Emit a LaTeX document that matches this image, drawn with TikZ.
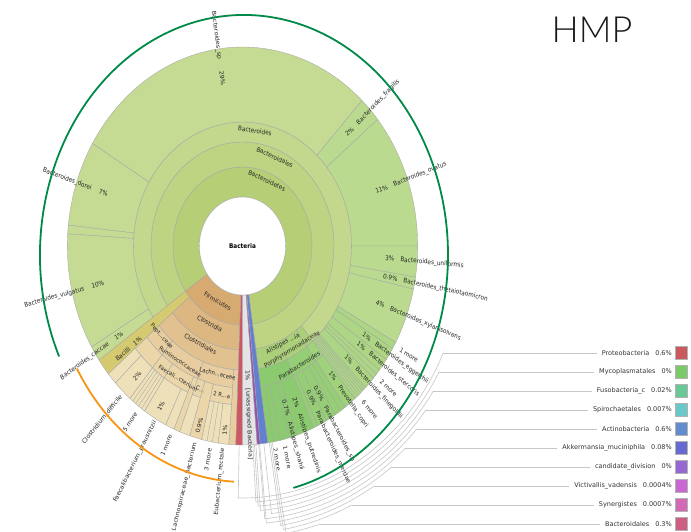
\documentclass[tikz,border=0pt]{standalone}
\usepackage{fontspec}
\newfontfamily\kfont{DejaVu Sans}
\IfFontExistsTF{Lato Light}{\newfontfamily\hfont{Lato Light}}{\newfontfamily\hfont{Lato}}
\usetikzlibrary{calc}
\definecolor{bdA}{RGB}{182,206,118}
\definecolor{bdB}{RGB}{190,212,130}
\definecolor{bdC}{RGB}{195,216,140}
\definecolor{bsp}{RGB}{197,219,147}
\definecolor{bsr}{RGB}{186,219,143}
\definecolor{bsl}{RGB}{172,214,132}
\definecolor{prv}{RGB}{160,210,124}
\definecolor{pra}{RGB}{150,206,118}
\definecolor{ali}{RGB}{140,202,112}
\definecolor{famc}{RGB}{172,208,122}
\definecolor{fmA}{RGB}{214,170,112}
\definecolor{fmB}{RGB}{221,183,130}
\definecolor{fmC}{RGB}{226,193,145}
\definecolor{fmD}{RGB}{231,205,160}
\definecolor{fmE}{RGB}{235,214,170}
\definecolor{fmS}{RGB}{238,224,184}
\definecolor{bac}{RGB}{214,202,112}
\definecolor{prot}{RGB}{203,88,98}
\definecolor{unas}{RGB}{228,228,230}
\definecolor{verr}{RGB}{150,82,172}
\definecolor{actn}{RGB}{98,128,205}
\definecolor{lcA}{RGB}{200,90,95}
\definecolor{lcB}{RGB}{125,200,105}
\definecolor{lcC}{RGB}{105,200,150}
\definecolor{lcD}{RGB}{105,200,200}
\definecolor{lcE}{RGB}{100,140,205}
\definecolor{lcF}{RGB}{105,105,210}
\definecolor{lcG}{RGB}{150,105,210}
\definecolor{lcH}{RGB}{200,105,210}
\definecolor{lcI}{RGB}{210,105,180}
\definecolor{lcJ}{RGB}{205,95,130}
\definecolor{garc}{RGB}{0,138,72}
\definecolor{oarc}{RGB}{247,150,20}
\tikzset{
  wl/.style={draw=black!35, line width=0.35pt},
  lab/.style={font=\kfont\fontsize{6.5}{7}\selectfont, text=black!85, inner sep=0.5pt, transform shape},
  slab/.style={lab, font=\kfont\fontsize{6}{6.5}\selectfont},
  leader/.style={draw=black!22, line width=0.6pt},
  legtext/.style={font=\kfont\fontsize{6.5}{7}\selectfont, text=black!80, inner sep=0pt, anchor=east},
  swatch/.style={minimum width=12pt, minimum height=13pt, inner sep=0pt, draw=black!30, line width=0.3pt},
}
\newcommand\ksec[5]{\filldraw[wl,fill=#1] (#2:#4) -- (#2:#5) arc[start angle=#2,end angle=#3,radius=#5] -- (#3:#4) arc[start angle=#3,end angle=#2,radius=#4] -- cycle;}
\newcommand\kline[1]{\draw[wl] (#1:124) -- (#1:199);}
\newcommand\labR[4]{\node[lab,anchor=west,rotate=#2] (#1) at (#2:#3) {#4};}
\newcommand\labL[4]{\pgfmathsetmacro\kang{#2+180}\node[lab,anchor=east,rotate=\kang] (#1) at (#2:#3) {#4};}
\newcommand\labC[4]{\pgfmathsetmacro\kang{#2+180}\node[lab,rotate=\kang] (#1) at (#2:#3) {#4};}
\newcommand\labT[4]{\pgfmathsetmacro\kang{#2-90}\node[lab,rotate=\kang] (#1) at (#2:#3) {#4};}
\newcommand\labB[4]{\pgfmathsetmacro\kang{#2+90}\node[lab,rotate=\kang] (#1) at (#2:#3) {#4};}
\newcommand\labS[4]{\pgfmathsetmacro\kang{#2+90}\node[slab,rotate=\kang] (#1) at (#2:#3) {#4};}
\begin{document}
\begin{tikzpicture}[x=1pt,y=1pt]
\useasboundingbox (0,0) rectangle (691,-531);
\fill[white] (0,0) rectangle (691,-531);
\begin{scope}[shift={(242.5,-246)}, xscale=0.88]
% Bacteroidetes
\ksec{bdA}{-81.7}{215}{49}{79}
\ksec{bdB}{-81.7}{215}{79}{104}
\ksec{bdC}{-50}{215}{104}{124}
\ksec{famc}{-54}{-50}{104}{124}
\ksec{famc}{-66}{-54}{104}{124}
\ksec{famc}{-81.7}{-66}{104}{124}
\ksec{bsp}{47}{149}{124}{199}
\ksec{bsp}{149}{174}{124}{199}
\ksec{bsp}{174}{176.5}{124}{199}
\ksec{bsp}{176.5}{210.5}{124}{199}
\ksec{bsp}{210.5}{215}{124}{199}
\ksec{bsr}{39.5}{47}{124}{199}
\ksec{bsr}{0}{39.5}{124}{199}
\ksec{bsr}{-9}{0}{124}{199}
\ksec{bsr}{-12.5}{-9}{124}{199}
\ksec{bsr}{-29}{-12.5}{124}{199}
\ksec{bsl}{-31}{-29}{124}{199}
\ksec{bsl}{-34.8}{-31}{124}{199}
\ksec{bsl}{-38.6}{-34.8}{124}{199}
\ksec{bsl}{-41.6}{-38.6}{124}{199}
\ksec{bsl}{-45.4}{-41.6}{124}{199}
\ksec{bsl}{-50}{-45.4}{124}{199}
\kline{-40.1}\kline{-49.2}\kline{-48.4}\kline{-47.6}\kline{-46.8}\kline{-46.1}
\ksec{prv}{-54}{-50}{124}{142}
\ksec{prv}{-54}{-50}{142}{199}
\ksec{pra}{-66}{-54}{124}{142}
\ksec{pra}{-58}{-54}{142}{199}
\ksec{pra}{-61.4}{-58}{142}{199}
\ksec{pra}{-64.6}{-61.4}{142}{199}
\ksec{pra}{-66}{-64.6}{142}{199}
\ksec{ali}{-81.7}{-66}{124}{142}
\ksec{ali}{-72}{-66}{142}{199}
\ksec{ali}{-74.5}{-72}{142}{199}
\ksec{ali}{-77.5}{-74.5}{142}{199}
\ksec{ali}{-81.7}{-77.5}{142}{199}
\draw[wl] (-79.6:142) -- (-79.6:199);
\draw[wl] (-56:142) -- (-56:199);
% Firmicutes
\ksec{fmA}{215}{267.8}{49}{79}
\ksec{bac}{215}{220}{79}{199}
\ksec{fmB}{220}{267.8}{79}{104}
\ksec{fmC}{220}{267.8}{104}{124}
\ksec{fmD}{220}{230}{124}{142}
\ksec{fmD}{230}{249}{124}{142}
\ksec{fmD}{249}{265.5}{124}{142}
\ksec{fmD}{265.5}{267.8}{124}{199}
\ksec{fmE}{220}{230}{142}{159}
\ksec{fmS}{220}{223.5}{159}{199}
\ksec{fmS}{223.5}{230}{159}{199}
\ksec{fmE}{230}{236}{142}{159}
\ksec{fmS}{230}{236}{159}{199}
\draw[wl] (231.2:159) -- (231.2:199);
\draw[wl] (232.4:159) -- (232.4:199);
\draw[wl] (233.6:159) -- (233.6:199);
\draw[wl] (234.8:159) -- (234.8:199);
\ksec{fmE}{236}{247}{142}{159}
\ksec{fmS}{236}{244}{159}{199}
\ksec{fmS}{244}{247}{159}{199}
\ksec{fmE}{247}{249}{142}{199}
\ksec{fmE}{249}{252.5}{142}{159}
\ksec{fmS}{249}{252.5}{159}{199}
\ksec{fmE}{252.5}{256.5}{142}{199}
\ksec{fmE}{256.5}{265.5}{142}{159}
\ksec{fmS}{256.5}{262}{159}{199}
\ksec{fmS}{262}{265.5}{159}{199}
\draw[wl] (258.3:159) -- (258.3:199);
\draw[wl] (260.1:159) -- (260.1:199);
% thin phyla
\ksec{prot}{267.8}{270}{49}{199}
\ksec{unas}{270}{274.8}{49}{199}
\ksec{verr}{274.8}{275.8}{49}{199}
\ksec{actn}{275.8}{278.3}{49}{199}
% hole
\filldraw[wl,fill=white] (0,0) circle[radius=49];
\node[font=\kfont\bfseries\fontsize{6.5}{7}\selectfont, transform shape] (root) at (0,0) {Bacteria};
% ring labels
\labT{lbB}{83}{116}{Bacteroides}
\labT{lbBs}{67.5}{96}{Bacteroidales}
\labT{lbBt}{67}{71}{Bacteroidetes}
\labB{lbF}{242.8}{62}{Firmicutes}
\labB{lbCa}{244.4}{86}{Clostridia}
\labB{lbCs}{244}{109}{Clostridiales}
\labS{lbPe}{224.5}{129}{Pept...ceae}
\labS{lbRu}{238.5}{135.5}{Ruminococcaceae}
\labS{lbLa}{257.5}{131}{Lachn...aceae}
\labS{lbFa}{241}{151}{Faecali...cterium}
\labS{lbC}{251.5}{151}{C...}
\labS{lbRo}{261}{151}{2 R...a}
\labB{lbPo}{-61.4}{118}{Porphyromonadaceae}
\labB{lbAl}{-64.8}{108}{Alistipes ...ia}
\labB{lbPa}{-61.6}{136}{Parabacteroides}
% left species labels
\labL{nsp}{98}{161}{Bacteroides\_sp\hspace{12pt}29\%}
\labL{ndo}{161.5}{161}{Bacteroides\_dorei\hspace{9pt}7\%}
\labL{nvu}{193.5}{161}{Bacteroides\_vulgatus\hspace{9pt}10\%}
\labL{nca}{212.8}{161}{Bacteroides\_caccae\hspace{9pt}1\%}
\labL{nba}{218.5}{147}{Bacilli\hspace{6pt}1\%}
\labC{pcd}{227.5}{177}{2\%}
\labC{pfp}{240}{185}{1\%}
\labC{plb}{254.7}{186}{0.9\%}
\labC{per}{263.8}{185}{1\%}
\labL{ncd}{227.5}{203}{Clostridium\_difficile}
\labL{nfm}{234}{205}{5 more}
\labL{nfp}{240.5}{201}{Faecalibacterium\_prausnitzii}
\labL{nom}{246.5}{205}{1 more}
\labL{nlb}{254.7}{203}{Lachnospiraceae\_bacterium}
\labL{ntm}{259.6}{205}{3 more}
\labL{ner}{263.7}{203}{Eubacterium\_rectale}
% right species labels
\labR{nfr}{43}{161}{2\%\hspace{7pt}Bacteroides\_fragilis}
\labR{nov}{19.5}{160}{11\%\hspace{7pt}Bacteroides\_ovatus}
\labR{nuf}{-4.5}{162}{3\%\hspace{7pt}Bacteroides\_uniformis}
\labR{nth}{-10.8}{162}{0.9\%\hspace{7pt}Bacteroides\_thetaiotaomicron}
\labR{nxy}{-20.5}{161}{4\%\hspace{7pt}Bacteroides\_xylanisolvens}
\labR{nma}{-30}{206}{1 more}
\labR{neg}{-32.9}{162}{1\%\hspace{7pt}Bacteroides\_eggerthii}
\labR{nst}{-36.7}{162}{1\%\hspace{7pt}Bacteroides\_stercoris}
\labR{nmb}{-40.5}{206}{2 more}
\labR{nfi}{-43.5}{160}{1\%\hspace{7pt}Bacteroides\_finegoldii}
\labR{nmc}{-48.5}{206}{6 more}
\labR{npc}{-52}{160}{1\%\hspace{7pt}Prevotella\_copri}
\labR{nps}{-59.7}{162}{0.9\%\hspace{7pt}Parabacteroides\_sp}
\labR{npm}{-63}{162}{0.9\%\hspace{7pt}Parabacteroides\_merdae}
\labR{nap}{-69}{162}{2\%\hspace{7pt}Alistipes\_putredinis}
\labR{nas}{-73.2}{160}{0.7\%\hspace{7pt}Alistipes\_shahii}
\labR{nmd}{-76.5}{205}{1 more}
\labR{nme}{-79.6}{205}{2 more}
\labR{nua}{272.4}{124}{1\%\hspace{8pt}[unassigned Bacteria]}
% leaders
\foreach \i/\ta in {0/268.9,1/273.4,2/273.9,3/274.4,4/277.0,5/275.3,6/275.6,7/278.8,8/279.3,9/279.8}{
  \pgfmathsetmacro\krr{252+4.4*\i}
  \pgfmathsetmacro\kph{360-asin((353+19*\i-246)/\krr)}
  \draw[leader] (\ta:199) -- (\ta:\krr) arc[start angle=\ta,end angle=\kph,radius=\krr] coordinate (e\i);
}
\end{scope}
% legend
\foreach \i/\nm/\pc/\cc in {0/Proteobacteria/0.6\%/lcA,1/Mycoplasmatales/0\%/lcB,2/Fusobacteria\_c/0.02\%/lcC,3/Spirochaetales/0.007\%/lcD,4/Actinobacteria/0.6\%/lcE,5/Akkermansia\_muciniphila/0.08\%/lcF,6/candidate\_division/0\%/lcG,7/Victivallis\_vadensis/0.0004\%/lcH,8/Synergistes/0.0007\%/lcI,9/Bacteroidales/0.3\%/lcJ}{
  \pgfmathsetmacro\kyy{-(353+19*\i)}
  \node[legtext] (leg\i) at (672,\kyy) {\nm\hspace{6pt}\pc};
  \node[swatch,fill=\cc] (sw\i) at (681,\kyy) {};
  \coordinate (le\i) at ([xshift=-5pt]leg\i.west);
  \draw[leader] (e\i) -- (le\i |- e\i);
}
% highlight arcs
\draw[line width=1.8pt, draw=garc] (244,-255) ++(205:204 and 240) arc[start angle=205,end angle=-76,x radius=204,y radius=240];
\draw[line width=1.8pt, draw=oarc] (244,-255) ++(210:193 and 227) arc[start angle=210,end angle=267,x radius=193,y radius=227];
\node[font=\hfont\fontsize{36}{40}\selectfont, text=black!90, inner sep=0pt] (title) at (592,-30) {HMP};
\end{tikzpicture}
\end{document}
